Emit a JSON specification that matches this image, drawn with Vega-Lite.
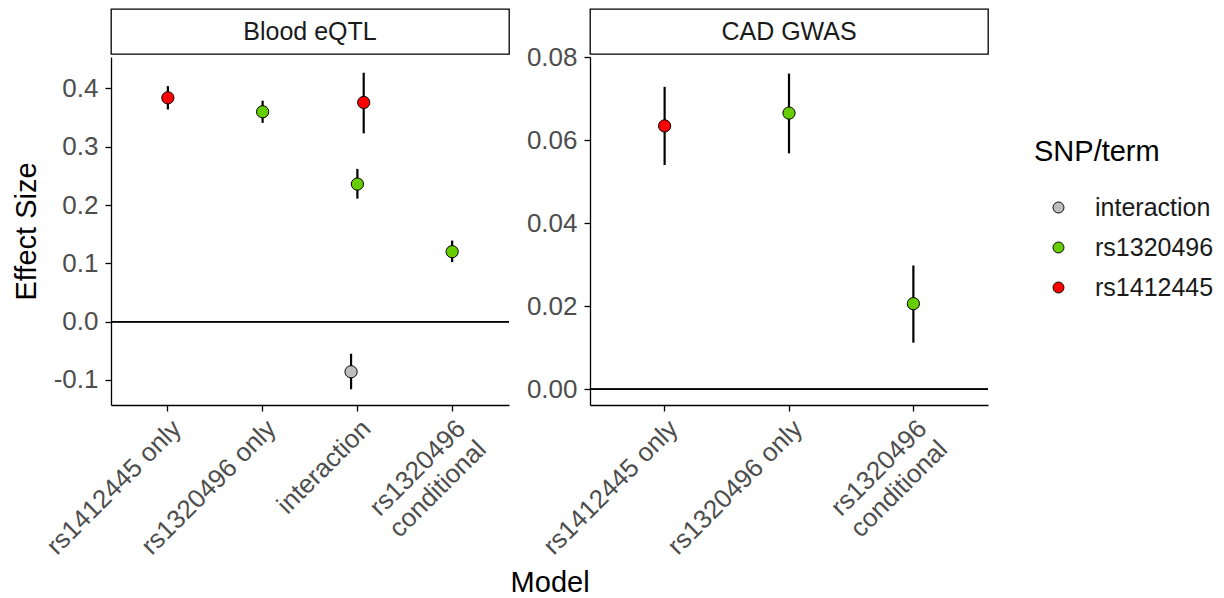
{
  "$schema": "https://vega.github.io/schema/vega-lite/v6.json",
  "background": "white",
  "padding": {"left": 12, "top": 8, "right": 5, "bottom": 5},
  "datasets": {
    "effects": [
      {"panel": "Blood eQTL", "model": "rs1412445 only", "term": "rs1412445", "est": 0.384, "lo": 0.364, "hi": 0.404},
      {"panel": "Blood eQTL", "model": "rs1320496 only", "term": "rs1320496", "est": 0.360, "lo": 0.341, "hi": 0.379},
      {"panel": "Blood eQTL", "model": "interaction", "term": "rs1412445", "est": 0.376, "lo": 0.323, "hi": 0.427},
      {"panel": "Blood eQTL", "model": "interaction", "term": "rs1320496", "est": 0.236, "lo": 0.211, "hi": 0.262},
      {"panel": "Blood eQTL", "model": "interaction", "term": "interaction", "est": -0.086, "lo": -0.116, "hi": -0.055},
      {"panel": "Blood eQTL", "model": "rs1320496 conditional", "term": "rs1320496", "est": 0.120, "lo": 0.102, "hi": 0.139},
      {"panel": "CAD GWAS", "model": "rs1412445 only", "term": "rs1412445", "est": 0.0634, "lo": 0.0540, "hi": 0.0728},
      {"panel": "CAD GWAS", "model": "rs1320496 only", "term": "rs1320496", "est": 0.0665, "lo": 0.0568, "hi": 0.0760},
      {"panel": "CAD GWAS", "model": "rs1320496 conditional", "term": "rs1320496", "est": 0.0206, "lo": 0.0112, "hi": 0.0298}
    ],
    "panels": [{"panel": "Blood eQTL"}, {"panel": "CAD GWAS"}]
  },
  "config": {
    "font": "Liberation Sans",
    "view": {"stroke": null},
    "axis": {
      "grid": false,
      "domainColor": "black",
      "domainWidth": 1.3,
      "tickColor": "black",
      "tickWidth": 1.3,
      "tickSize": 6,
      "labelColor": "#4D4D4D",
      "labelFontSize": 26,
      "labelFont": "Liberation Sans",
      "titleFont": "Liberation Sans",
      "titleFontSize": 29,
      "titleFontWeight": "normal",
      "titleColor": "black"
    },
    "legend": {
      "titleFont": "Liberation Sans",
      "titleFontSize": 29,
      "titleFontWeight": "normal",
      "titleColor": "black",
      "labelFont": "Liberation Sans",
      "labelFontSize": 25,
      "labelColor": "#1A1A1A",
      "symbolSize": 120,
      "symbolStrokeColor": "black",
      "symbolStrokeWidth": 1,
      "symbolOffset": 12,
      "labelOffset": 24,
      "rowPadding": 14,
      "titlePadding": 28,
      "padding": 0
    }
  },
  "title": {"text": "Model", "orient": "bottom", "anchor": "middle", "fontSize": 29, "fontWeight": "normal", "font": "Liberation Sans", "color": "black", "offset": 10, "dx": -63},
  "spacing": 16,
  "resolve": {"scale": {"x": "independent", "y": "independent", "fill": "shared"}},
  "hconcat": [
    {
      "spacing": 3,
      "bounds": "flush",
      "vconcat": [
        {
          "data": {"name": "panels"},
          "transform": [{"filter": "datum.panel == 'Blood eQTL'"}],
          "width": 398,
          "height": 45,
          "view": {"stroke": "black", "strokeWidth": 1.3, "fill": "white"},
          "mark": {"type": "text", "fontSize": 25, "color": "#1A1A1A", "font": "Liberation Sans"},
          "encoding": {"text": {"field": "panel", "type": "nominal"}}
        },
        {
          "data": {"name": "effects"},
          "transform": [{"filter": "datum.panel == 'Blood eQTL'"}],
          "width": 398,
          "height": 348,
          "layer": [
            {
              "mark": {"type": "rule", "color": "black", "strokeWidth": 1.3},
              "encoding": {
                "y": {"datum": 0, "type": "quantitative", "scale": {"domain": [-0.143, 0.454], "nice": false, "zero": false}, "title": "Effect Size"}
              }
            },
            {
              "transform": [{"filter": "datum.model != 'interaction'"}],
              "mark": {"type": "rule", "color": "black", "strokeWidth": 2.2},
              "encoding": {
                "x": {"field": "model", "type": "nominal", "title": null,
                      "scale": {"domain": ["rs1412445 only", "rs1320496 only", "interaction", "rs1320496 conditional"], "paddingInner": 0.8, "paddingOuter": 0.5},
                      "axis": {"labelAngle": -45, "labelAlign": "right", "labelBaseline": "top", "labelPadding": 4, "labelOverlap": false, "labelLineHeight": 29, "labelExpr": "datum.value == 'rs1320496 conditional' ? ['rs1320496', 'conditional'] : datum.label", "title": null}},
                "y": {"field": "lo", "type": "quantitative", "scale": {"domain": [-0.143, 0.454], "nice": false, "zero": false}, "title": "Effect Size",
                      "axis": {"values": [-0.1, 0, 0.1, 0.2, 0.3, 0.4], "labelExpr": "replace(format(datum.value, '.1f'), '\u2212', '-')", "labelPadding": 7, "titlePadding": 12}},
                "y2": {"field": "hi"}
              }
            },
            {
              "transform": [{"filter": "datum.model != 'interaction'"}],
              "mark": {"type": "point", "filled": true, "shape": "circle", "size": 150, "stroke": "black", "strokeWidth": 1, "opacity": 1},
              "encoding": {
                "x": {"field": "model", "type": "nominal", "title": null,
                      "scale": {"domain": ["rs1412445 only", "rs1320496 only", "interaction", "rs1320496 conditional"], "paddingInner": 0.8, "paddingOuter": 0.5}},
                "y": {"field": "est", "type": "quantitative", "scale": {"domain": [-0.143, 0.454], "nice": false, "zero": false}, "title": "Effect Size"},
                "fill": {"field": "term", "type": "nominal", "title": "SNP/term",
                         "scale": {"domain": ["interaction", "rs1320496", "rs1412445"], "range": ["#BEBEBE", "#66CD00", "#FF0000"]},
                         "legend": {"orient": "none", "legendX": 923, "legendY": 129}}
              }
            },
            {
              "transform": [{"filter": "datum.model == 'interaction'"}],
              "mark": {"type": "rule", "color": "black", "strokeWidth": 2.2},
              "encoding": {
                "x": {"field": "model", "type": "nominal", "title": null,
                      "scale": {"domain": ["rs1412445 only", "rs1320496 only", "interaction", "rs1320496 conditional"], "paddingInner": 0.8, "paddingOuter": 0.5}},
                "xOffset": {"field": "term", "type": "nominal", "scale": {"domain": ["interaction", "rs1320496", "rs1412445"]}},
                "y": {"field": "lo", "type": "quantitative", "scale": {"domain": [-0.143, 0.454], "nice": false, "zero": false}, "title": "Effect Size"},
                "y2": {"field": "hi"}
              }
            },
            {
              "transform": [{"filter": "datum.model == 'interaction'"}],
              "mark": {"type": "point", "filled": true, "shape": "circle", "size": 150, "stroke": "black", "strokeWidth": 1, "opacity": 1},
              "encoding": {
                "x": {"field": "model", "type": "nominal", "title": null,
                      "scale": {"domain": ["rs1412445 only", "rs1320496 only", "interaction", "rs1320496 conditional"], "paddingInner": 0.8, "paddingOuter": 0.5}},
                "xOffset": {"field": "term", "type": "nominal", "scale": {"domain": ["interaction", "rs1320496", "rs1412445"]}},
                "y": {"field": "est", "type": "quantitative", "scale": {"domain": [-0.143, 0.454], "nice": false, "zero": false}, "title": "Effect Size"},
                "fill": {"field": "term", "type": "nominal", "title": "SNP/term",
                         "scale": {"domain": ["interaction", "rs1320496", "rs1412445"], "range": ["#BEBEBE", "#66CD00", "#FF0000"]},
                         "legend": {"orient": "none", "legendX": 923, "legendY": 129}}
              }
            }
          ]
        }
      ]
    },
    {
      "spacing": 3,
      "bounds": "flush",
      "vconcat": [
        {
          "data": {"name": "panels"},
          "transform": [{"filter": "datum.panel == 'CAD GWAS'"}],
          "width": 398,
          "height": 45,
          "view": {"stroke": "black", "strokeWidth": 1.3, "fill": "white"},
          "mark": {"type": "text", "fontSize": 25, "color": "#1A1A1A", "font": "Liberation Sans"},
          "encoding": {"text": {"field": "panel", "type": "nominal"}}
        },
        {
          "data": {"name": "effects"},
          "transform": [{"filter": "datum.panel == 'CAD GWAS'"}],
          "width": 398,
          "height": 348,
          "layer": [
            {
              "mark": {"type": "rule", "color": "black", "strokeWidth": 1.3},
              "encoding": {
                "y": {"datum": 0, "type": "quantitative", "scale": {"domain": [-0.0038, 0.0800], "nice": false, "zero": false}, "title": null}
              }
            },
            {
              "mark": {"type": "rule", "color": "black", "strokeWidth": 2.2},
              "encoding": {
                "x": {"field": "model", "type": "nominal", "title": null,
                      "scale": {"domain": ["rs1412445 only", "rs1320496 only", "rs1320496 conditional"], "paddingInner": 0.8, "paddingOuter": 0.5},
                      "axis": {"labelAngle": -45, "labelAlign": "right", "labelBaseline": "top", "labelPadding": 4, "labelOverlap": false, "labelLineHeight": 29, "labelExpr": "datum.value == 'rs1320496 conditional' ? ['rs1320496', 'conditional'] : datum.label", "title": null}},
                "y": {"field": "lo", "type": "quantitative", "scale": {"domain": [-0.0038, 0.0800], "nice": false, "zero": false}, "title": null,
                      "axis": {"values": [0, 0.02, 0.04, 0.06, 0.08], "format": ".2f", "labelPadding": 7}},
                "y2": {"field": "hi"}
              }
            },
            {
              "mark": {"type": "point", "filled": true, "shape": "circle", "size": 150, "stroke": "black", "strokeWidth": 1, "opacity": 1},
              "encoding": {
                "x": {"field": "model", "type": "nominal", "title": null,
                      "scale": {"domain": ["rs1412445 only", "rs1320496 only", "rs1320496 conditional"], "paddingInner": 0.8, "paddingOuter": 0.5}},
                "y": {"field": "est", "type": "quantitative", "scale": {"domain": [-0.0038, 0.0800], "nice": false, "zero": false}, "title": null},
                "fill": {"field": "term", "type": "nominal", "title": "SNP/term",
                         "scale": {"domain": ["interaction", "rs1320496", "rs1412445"], "range": ["#BEBEBE", "#66CD00", "#FF0000"]},
                         "legend": {"orient": "none", "legendX": 923, "legendY": 129}}
              }
            }
          ]
        }
      ]
    }
  ]
}
